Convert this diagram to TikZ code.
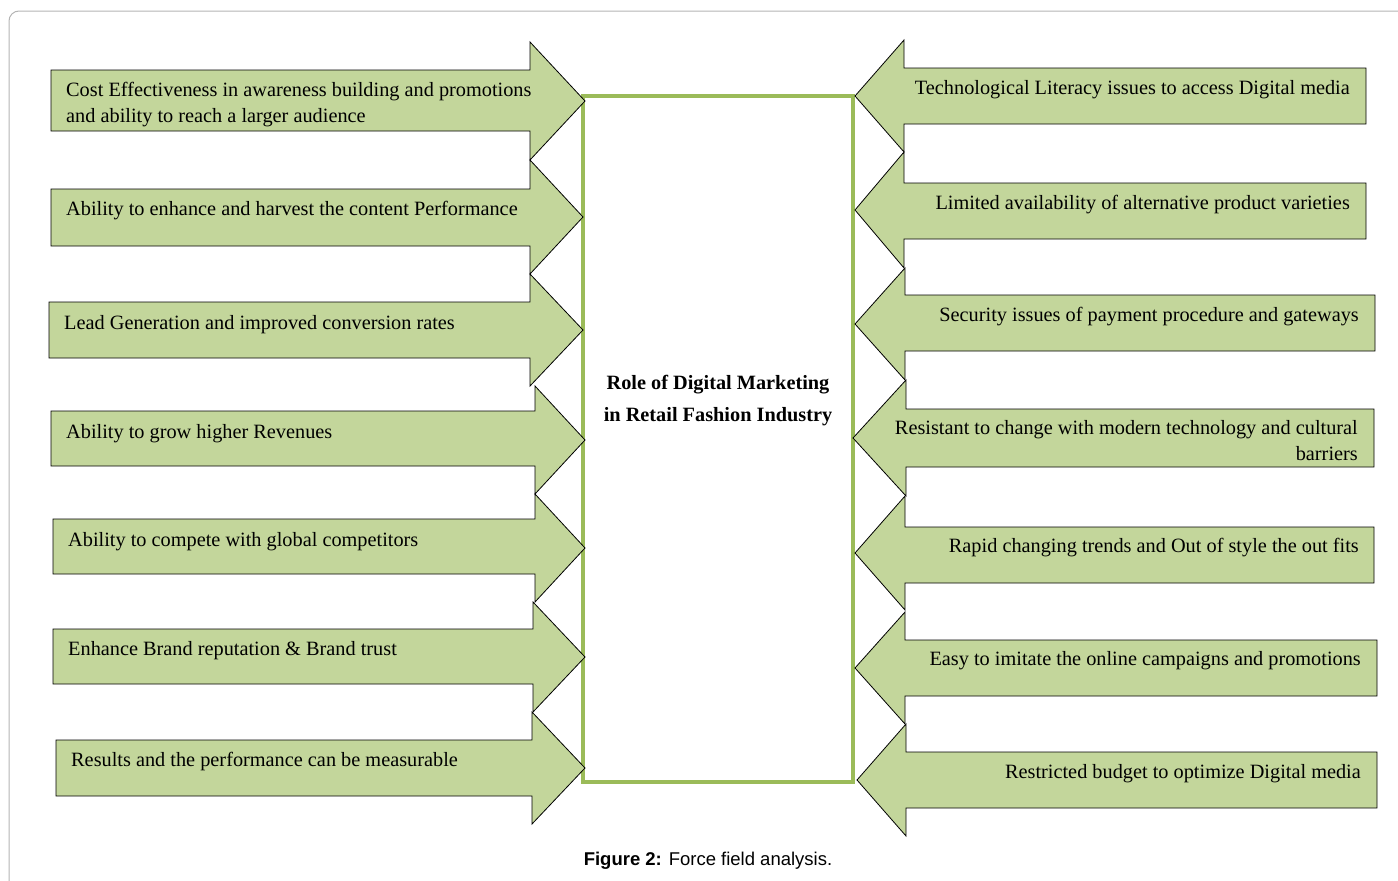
\documentclass[tikz,border=0pt]{standalone}
\usepackage{fontspec}
\setmainfont{Liberation Serif}
\newfontfamily\capfont{Liberation Sans}
\definecolor{arrowfill}{HTML}{C3D69B}
\definecolor{boxgreen}{HTML}{9BBB59}
\definecolor{framegray}{HTML}{B4B4B4}
\begin{document}
\begin{tikzpicture}[x=1pt,y=-1pt,
  arrowshape/.style={draw=black, line width=0.8pt, fill=arrowfill, line join=miter},
  ltext/.style={anchor=base west, inner sep=0pt, font=\fontsize{20.3}{25.5}\selectfont, align=left},
  rtext/.style={anchor=base east, inner sep=0pt, font=\fontsize{20.3}{25.5}\selectfont, align=right}]
\useasboundingbox (0,0) rectangle (1398,881);
\draw[framegray, line width=1pt, rounded corners=10pt] (9,895) -- (9,11) -- (1410,11);

% central box
\node (core) [draw=boxgreen, line width=4pt, minimum width=270pt, minimum height=686pt,
  inner sep=0pt, outer sep=0pt, anchor=north west] at (583,96) {};
\node (title) [align=center, font=\fontsize{20.3}{32}\selectfont\bfseries, inner sep=0pt, anchor=base]
  at (718,421) {Role of Digital Marketing\\in Retail Fashion Industry};

% driving forces (left, pointing right)
\foreach \xa/\yt/\yb/\xh/\ht/\hb/\tx in {
  51/70/131/530/42/160/585,
  51/189/246/530/160/274/583,
  49/302/358/530/274/386/583,
  51/411/466/535/386/494/585,
  53/519/574/535/494/602/585,
  53/629/684/533/602/712/585,
  56/740/796/532/712/824/585}{
  \draw[arrowshape] (\xa,\yt) -- (\xh,\yt) -- (\xh,\ht) -- (\tx,{(\ht+\hb)/2})
    -- (\xh,\hb) -- (\xh,\yb) -- (\xa,\yb) -- cycle;
}

% restraining forces (right, pointing left)
\foreach \xh/\yt/\yb/\xb/\ht/\hb/\tx in {
  904/68/124/1366/40/152/855,
  904/183/239/1366/152/268/855,
  905/295/351/1375/268/380/855,
  906/409/467/1374/380/496/853,
  905/527/583/1374/496/610/855,
  905/640/696/1377/612/724/855,
  906/752/808/1377/724/836/857}{
  \draw[arrowshape] (\xb,\yt) -- (\xh,\yt) -- (\xh,\ht) -- (\tx,{(\ht+\hb)/2})
    -- (\xh,\hb) -- (\xh,\yb) -- (\xb,\yb) -- cycle;
}

\node (l1) [ltext] at (66,122) {Cost Effectiveness in awareness building and promotions\\and ability to reach a larger audience};
\node (l2) [ltext] at (66,215) {Ability to enhance and harvest the content Performance};
\node (l3) [ltext] at (64,329) {Lead Generation and improved conversion rates};
\node (l4) [ltext] at (66,438) {Ability to grow higher Revenues};
\node (l5) [ltext] at (68,546) {Ability to compete with global competitors};
\node (l6) [ltext] at (68,655) {Enhance Brand reputation \& Brand trust};
\node (l7) [ltext] at (71,766) {Results and the performance can be measurable};

\node (r1) [rtext] at (1350,94) {Technological Literacy issues to access Digital media};
\node (r2) [rtext] at (1350,209) {Limited availability of alternative product varieties};
\node (r3) [rtext] at (1359,321) {Security issues of payment procedure and gateways};
\node (r4) [rtext] at (1358,460) {Resistant to change with modern technology and cultural\\barriers};
\node (r5) [rtext] at (1359,552) {Rapid changing trends and Out of style the out fits};
\node (r6) [rtext] at (1361,665) {Easy to imitate the online campaigns and promotions};
\node (r7) [rtext] at (1361,778) {Restricted budget to optimize Digital media};

\node (caption) [anchor=base, inner sep=0pt, font=\capfont\fontsize{18.5}{20}\selectfont]
  at (708,865) {\textbf{Figure 2:} Force field analysis.};
\end{tikzpicture}
\end{document}
